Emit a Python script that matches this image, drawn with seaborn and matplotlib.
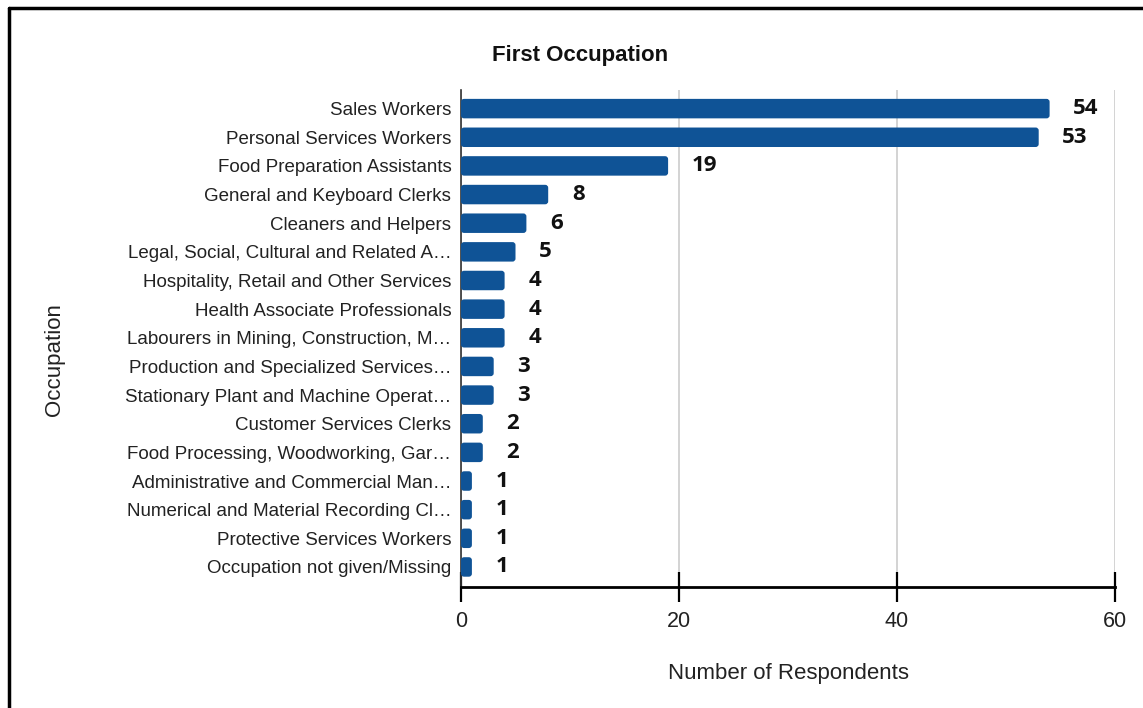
import matplotlib
matplotlib.use("Agg")
import matplotlib.pyplot as plt
import seaborn as sns
import pandas as pd
from matplotlib.patches import FancyBboxPatch
from matplotlib.lines import Line2D

occupations = [
    "Sales Workers",
    "Personal Services Workers",
    "Food Preparation Assistants",
    "General and Keyboard Clerks",
    "Cleaners and Helpers",
    "Legal, Social, Cultural and Related A\u2026",
    "Hospitality, Retail and Other Services",
    "Health Associate Professionals",
    "Labourers in Mining, Construction, M\u2026",
    "Production and Specialized Services\u2026",
    "Stationary Plant and Machine Operat\u2026",
    "Customer Services Clerks",
    "Food Processing, Woodworking, Gar\u2026",
    "Administrative and Commercial Man\u2026",
    "Numerical and Material Recording Cl\u2026",
    "Protective Services Workers",
    "Occupation not given/Missing",
]
respondents = [54, 53, 19, 8, 6, 5, 4, 4, 4, 3, 3, 2, 2, 1, 1, 1, 1]
x_ticks = [0, 20, 40, 60]

sns.set_theme(style="white")
plt.rcParams["font.family"] = ["Liberation Sans", "DejaVu Sans"]

bar_color = "#0f5396"

df = pd.DataFrame({"Occupation": occupations, "Respondents": respondents})

fig = plt.figure(figsize=(11.43, 7.08), dpi=100)
ax = fig.add_axes([461 / 1143, 1 - 587 / 708, (1115 - 461) / 1143, (587 - 90) / 708])

sns.barplot(data=df, x="Respondents", y="Occupation", orient="h",
            color=bar_color, saturation=1, width=0.68, ax=ax, zorder=3)

# Replace the square bars with slightly rounded ones of the same geometry
rects = list(ax.patches)
for r in rects:
    x0, y0 = r.get_x(), r.get_y()
    w, h = r.get_width(), r.get_height()
    rounded = FancyBboxPatch((x0, y0), w, h,
                             boxstyle="round,pad=0,rounding_size=0.28",
                             mutation_aspect=0.37,
                             facecolor=bar_color, edgecolor="none", zorder=3)
    r.remove()
    ax.add_patch(rounded)

ax.set_xlim(0, 60)
ax.set_ylim(len(occupations) - 0.3, -0.65)
ax.set_xticks(x_ticks)
ax.set_xticklabels([str(t) for t in x_ticks], fontsize=15.5, color="#222222")
ax.tick_params(axis="x", bottom=True, direction="inout", length=21, width=1.6,
               color="black", pad=7)
ax.tick_params(axis="y", left=False, length=0, pad=7, labelsize=13.5,
               labelcolor="#222222")

ax.grid(axis="x", color="#cccccc", linewidth=1.2, zorder=0)
ax.grid(axis="y", visible=False)

for s in ["top", "right"]:
    ax.spines[s].set_visible(False)
ax.spines["left"].set_color("#333333")
ax.spines["left"].set_linewidth(1.2)
ax.spines["bottom"].set_color("black")
ax.spines["bottom"].set_linewidth(2)
ax.spines["bottom"].set_zorder(4)

for i, v in enumerate(respondents):
    ax.annotate(str(v), xy=(v, i), xytext=(17, 0), textcoords="offset points",
                ha="left", va="center", fontsize=16, fontweight="bold",
                color="#111111", family=["Open Sans", "DejaVu Sans"])

ax.set_xlabel("Number of Respondents", fontsize=16, color="#222222", labelpad=22)
ax.set_ylabel("")
fig.text(55 / 1143, 1 - 360 / 708, "Occupation", rotation=90, ha="center",
         va="center", fontsize=16, color="#222222")

fig.text(580 / 1143, 1 - 56 / 708, "First Occupation", ha="center", va="center",
         fontsize=16, fontweight="bold", color="#111111")

# Outer frame along the top and left edges
fig.add_artist(Line2D([9 / 1143, 1], [1 - 8 / 708, 1 - 8 / 708],
                      transform=fig.transFigure, color="black", linewidth=2.5))
fig.add_artist(Line2D([9 / 1143, 9 / 1143], [0, 1 - 8 / 708],
                      transform=fig.transFigure, color="black", linewidth=2.5))

fig.savefig("out.png", dpi=100, facecolor="white")
